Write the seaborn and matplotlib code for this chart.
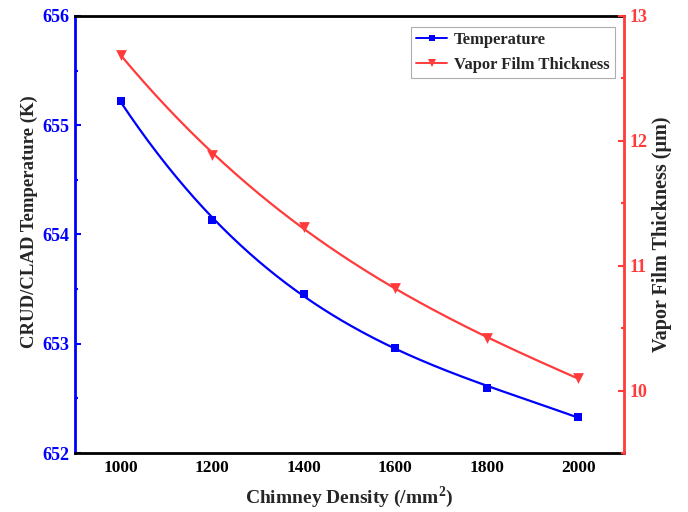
import numpy as np
import pandas as pd
import matplotlib
matplotlib.use("Agg")
import matplotlib.pyplot as plt
from matplotlib.lines import Line2D
from matplotlib.ticker import AutoMinorLocator
import seaborn as sns

# Data
chimney_density = [1000, 1200, 1400, 1600, 1800, 2000]
temperature = [655.22, 654.13, 653.46, 652.96, 652.60, 652.33]
film_thickness = [12.69, 11.89, 11.31, 10.82, 10.42, 10.10]

BLUE = "#0000FF"
RED = "#FF3B3B"

sns.set_theme(style="white")
plt.rcParams["font.family"] = ["Liberation Serif", "DejaVu Serif"]
plt.rcParams["font.weight"] = "bold"
plt.rcParams["mathtext.fontset"] = "custom"
plt.rcParams["mathtext.rm"] = "Liberation Serif:bold"
plt.rcParams["mathtext.bf"] = "Liberation Serif:bold"

df = pd.DataFrame({"density": chimney_density,
                   "temperature": temperature,
                   "thickness": film_thickness})


def smooth(x, y, n=200):
    """Cubic polynomial trend line through the series."""
    x = np.asarray(x, float)
    y = np.asarray(y, float)
    xs = np.linspace(x.min(), x.max(), n)
    c = np.polyfit((x - 1500) / 500, y, 3)
    return xs, np.polyval(c, (xs - 1500) / 500)


fig = plt.figure(figsize=(6.88, 5.12), dpi=100)
ax = fig.add_axes([0.109, 0.115, 0.798, 0.854])
ax2 = ax.twinx()

xs, ts = smooth(df.density, df.temperature)
ax.plot(xs, ts, color=BLUE, lw=1.6, zorder=2)
sns.scatterplot(data=df, x="density", y="temperature", ax=ax, color=BLUE,
                marker="s", s=40, edgecolor=BLUE, linewidth=0, zorder=3,
                legend=False)

xs, hs = smooth(df.density, df.thickness)
ax2.plot(xs, hs, color=RED, lw=1.6, zorder=2)
sns.scatterplot(data=df, x="density", y="thickness", ax=ax2, color=RED,
                marker="v", s=60, edgecolor=RED, linewidth=0, zorder=3,
                legend=False)

ax.set_xlim(900, 2100)
ax.set_ylim(652, 656)
ax2.set_ylim(9.5, 13)
ax.set_xticks([1000, 1200, 1400, 1600, 1800, 2000])
ax.set_yticks([652, 653, 654, 655, 656])
ax2.set_yticks([10, 11, 12, 13])
ax.yaxis.set_minor_locator(AutoMinorLocator(2))
ax2.yaxis.set_minor_locator(AutoMinorLocator(2))

ax.set_xlabel(r"Chimney Density (/mm$^{\mathbf{2}}$)", fontsize=14,
              fontweight="bold", labelpad=6)
ax.set_ylabel("CRUD/CLAD Temperature (K)", fontsize=13.5, fontweight="bold",
              labelpad=6)
ax2.set_ylabel("Vapor Film Thickness (μm)", fontsize=14.5, fontweight="bold",
               labelpad=3)
ax.yaxis.set_label_coords(-0.067, 0.53)

for s in ["top", "bottom"]:
    ax.spines[s].set_color("black")
    ax.spines[s].set_linewidth(2)
    ax2.spines[s].set_visible(False)
ax.spines["left"].set_color(BLUE)
ax.spines["left"].set_linewidth(2)
ax.spines["right"].set_visible(False)
ax2.spines["left"].set_visible(False)
ax2.spines["right"].set_color(RED)
ax2.spines["right"].set_linewidth(2)

ax.tick_params(axis="x", direction="in", length=4, width=1.5, colors="black",
               labelsize=12.5, pad=5, top=False)
ax.tick_params(axis="y", which="major", direction="in", length=4, width=1.5,
               colors=BLUE, labelsize=13, pad=4)
ax.tick_params(axis="y", which="minor", direction="in", length=2.5, width=1.5,
               colors=BLUE)
ax2.tick_params(axis="y", which="major", direction="in", length=4, width=1.5,
                colors=RED, labelsize=13, pad=4)
ax2.tick_params(axis="y", which="minor", direction="in", length=2.5, width=1.5,
                colors=RED)
for lab in ax.get_xticklabels() + ax.get_yticklabels() + ax2.get_yticklabels():
    lab.set_fontweight("bold")

handles = [
    Line2D([], [], color=BLUE, lw=1.4, marker="s", markersize=5,
           markeredgewidth=0, label="Temperature"),
    Line2D([], [], color=RED, lw=1.4, marker="v", markersize=6,
           markeredgewidth=0, label="Vapor Film Thickness"),
]
leg = ax2.legend(handles=handles, loc="upper right",
                 bbox_to_anchor=(0.983, 0.975), fontsize=12, frameon=True,
                 fancybox=False, edgecolor="#999999", borderpad=0.3,
                 handlelength=1.9, handletextpad=0.4, labelspacing=0.55,
                 borderaxespad=0)
leg.get_frame().set_linewidth(0.8)
for t in leg.get_texts():
    t.set_fontweight("bold")

fig.savefig("out.png", dpi=100)
